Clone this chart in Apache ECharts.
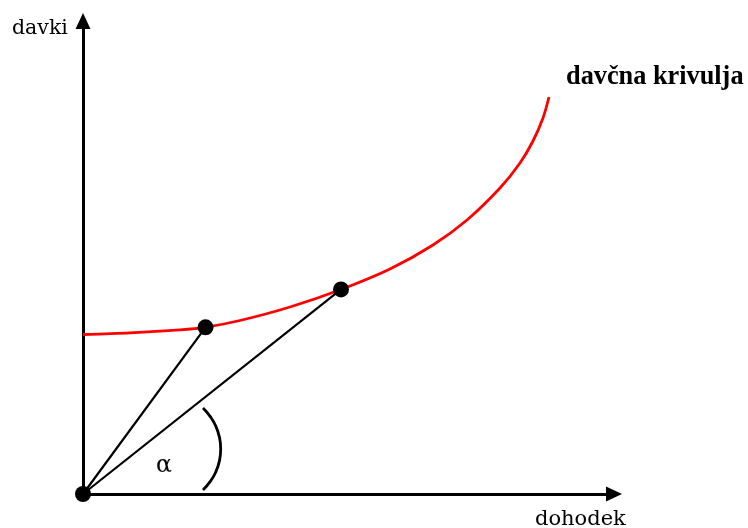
<!DOCTYPE html>
<html><head><meta charset="utf-8">
<script src="https://cdn.jsdelivr.net/npm/echarts@6/dist/echarts.min.js"></script>
<style>html,body{margin:0;padding:0;background:#fff}#c{width:748px;height:528px}</style>
</head><body><div id="c"></div>
<script>
// Tax curve (davčna krivulja): income (x) vs tax (y), arbitrary units
const curveX = [0, 47, 97, 122, 157, 207, 258, 307, 350, 384, 417, 437, 450, 460, 466];
const curveY = [159.5, 161.2, 164.2, 166.7, 173.5, 187, 204.5, 225, 249, 274, 306, 331, 353, 376, 397];
// marked points on the curve, plus origin
const pointsX = [0, 122.5, 258];
const pointsY = [0, 166.7, 204.6];
// angle arc points
const arcX = [120, 127.3, 132.9, 136.5, 137.7, 136.5, 132.9, 127.3, 120];
const arcY = [86, 77.4, 67.7, 56.6, 45, 33.4, 22.3, 12.6, 4];
const labels = { y: 'davki', x: 'dohodek', curve: 'davčna krivulja', angle: 'α' };

const zip = (a, b) => a.map((v, i) => [v, b[i]]);
const chart = echarts.init(document.getElementById('c'));
const serif = '"DejaVu Serif"';
const axisCommon = {
  axisLine: { show: true, symbol: ['none', 'triangle'], symbolSize: [15, 16], lineStyle: { color: '#000', width: 3 } },
  axisTick: { show: false }, axisLabel: { show: false }, splitLine: { show: false }
};
chart.setOption({
  animation: false,
  grid: { left: 83, right: 134, top: 21, bottom: 34 },
  xAxis: Object.assign({ type: 'value', min: 0, max: 531 }, axisCommon),
  yAxis: Object.assign({ type: 'value', min: 0, max: 473 }, axisCommon),
  series: [
    { type: 'line', data: zip(curveX, curveY), smooth: 0.3, showSymbol: false, clip: false,
      lineStyle: { color: '#ff0000', width: 2.8 }, z: 3 },
    { type: 'line', data: [[pointsX[0], pointsY[0]], [pointsX[1], pointsY[1]]], showSymbol: false, clip: false,
      lineStyle: { color: '#000', width: 2.2 }, z: 2 },
    { type: 'line', data: [[pointsX[0], pointsY[0]], [pointsX[2], pointsY[2]]], showSymbol: false, clip: false,
      lineStyle: { color: '#000', width: 2.2 }, z: 2 },
    { type: 'line', data: zip(arcX, arcY), smooth: 0.5, showSymbol: false, clip: false,
      lineStyle: { color: '#000', width: 2.8 }, z: 2 },
    { type: 'scatter', data: zip(pointsX, pointsY), symbolSize: 16, clip: false,
      itemStyle: { color: '#000', opacity: 1 }, z: 5 },
  ],
  graphic: [
    { type: 'text', left: 12, top: 18, style: { text: labels.y, font: '20.5px ' + serif, fill: '#000' } },
    { type: 'text', left: 535, top: 509, style: { text: labels.x, font: '21px ' + serif, fill: '#000' } },
    { type: 'text', left: 566, top: 64, style: { text: labels.curve, font: 'bold 26.3px "Liberation Serif"', fill: '#000' } },
    { type: 'text', left: 156, top: 454, style: { text: labels.angle, font: '23.5px ' + serif, fill: '#000' } }
  ]
});
</script></body></html>
